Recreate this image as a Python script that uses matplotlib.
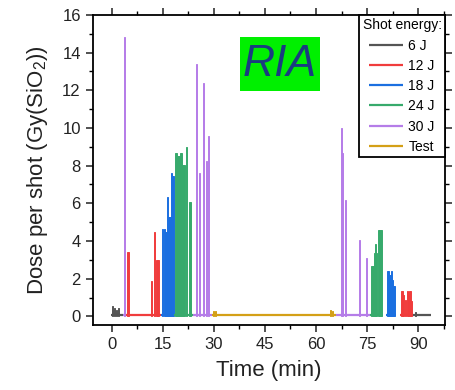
import numpy as np
import matplotlib
matplotlib.use('Agg')
from matplotlib import pyplot as plt
from matplotlib.patches import Rectangle
from matplotlib.ticker import MultipleLocator

plt.rcParams['font.family'] = ['Liberation Sans', 'DejaVu Sans']
plt.rcParams['mathtext.default'] = 'regular'

# shot energies, colours
labels = ['6 J', '12 J', '18 J', '24 J', '30 J', 'Test']
colors = ['#555555', '#f03c3c', '#1b6fe0', '#37aa6c', '#b57de8', '#d4a017']

# shot times (min) and doses (Gy(SiO2)) per energy
t_6J = [0.3, 0.85, 1.5, 2.05, 89.2]
d_6J = [0.57, 0.45, 0.35, 0.45, 0.25]
t_12J = [4.8, 11.7, 12.7, 13.05, 13.4, 13.75, 85.25, 85.75, 86.25, 86.75, 87.2, 87.6, 88.1]
d_12J = [3.4, 1.86, 4.5, 2.97, 2.97, 2.97, 1.33, 1.15, 0.89, 1.33, 1.15, 1.36, 0.8]
t_18J = [15.05, 15.4, 15.75, 16.1, 16.45, 16.85, 17.15, 17.5, 17.85, 18.2,
         81.05, 81.4, 81.75, 82.1, 82.45, 82.8, 83.15]
d_18J = [4.63, 4.63, 4.5, 4.5, 6.33, 5.27, 5.27, 7.6, 7.46, 7.46,
         2.39, 2.39, 2.2, 2.39, 1.95, 1.59, 1.59]
t_24J = [18.8, 19.15, 19.5, 19.85, 20.2, 20.55, 20.9, 21.25, 21.95, 23.0,
         76.45, 76.8, 77.15, 77.5, 77.85, 78.45, 78.8, 79.15]
d_24J = [8.66, 8.66, 8.52, 8.52, 8.69, 8.69, 8.04, 8.04, 9.01, 6.05,
         2.69, 2.69, 3.36, 3.85, 3.36, 4.6, 4.6, 4.6]
t_30J = [3.9, 24.9, 25.9, 26.85, 27.85, 28.35, 67.45, 67.85, 68.75, 72.75, 74.75]
d_30J = [14.8, 13.4, 7.6, 12.37, 8.22, 9.58, 9.99, 8.66, 6.19, 4.07, 3.1]
t_test = [29.9, 30.4, 64.3, 64.8]
d_test = [0.27, 0.27, 0.35, 0.3]

# time ranges (start, end) of each energy run
runs_6J = [(-0.3, 3.4), (88.5, 93.8)]
runs_12J = [(4.2, 14.5), (84.6, 88.5)]
runs_18J = [(14.5, 18.4), (80.7, 83.6)]
runs_24J = [(18.4, 24.0), (75.8, 79.6)]
runs_30J = [(3.4, 4.2), (24.0, 29.4), (66.0, 75.8)]
runs_test = [(29.4, 66.0)]

shots = [(t_6J, d_6J), (t_12J, d_12J), (t_18J, d_18J),
         (t_24J, d_24J), (t_30J, d_30J), (t_test, d_test)]
runs = [runs_6J, runs_12J, runs_18J, runs_24J, runs_30J, runs_test]

fig = plt.figure(figsize=(4.56, 3.9), dpi=100)
ax = fig.add_axes([0.203, 0.167, 0.773, 0.795])

for (t, d), r, c, lab in zip(shots, runs, colors, labels):
    ax.bar(t, d, width=0.33, color=c, edgecolor=c, linewidth=0.7)
    starts = [s for s, e in r]
    ends = [e for s, e in r]
    ax.hlines([0.05] * len(r), starts, ends, color=c, lw=1.6, label=lab)

ax.set_xlim(-5.6, 97.9)
ax.set_ylim(-0.45, 16)
ax.xaxis.set_major_locator(MultipleLocator(15))
ax.xaxis.set_minor_locator(MultipleLocator(7.5))
ax.yaxis.set_major_locator(MultipleLocator(2))
ax.yaxis.set_minor_locator(MultipleLocator(1))

for sp in ax.spines.values():
    sp.set_linewidth(1.3)
ax.tick_params(axis='both', which='major', labelsize=12, length=5, width=1.1,
               colors='#222222', direction='out')
ax.tick_params(axis='both', which='minor', length=3, width=1.0, direction='out')
ax.tick_params(axis='x', which='both', top=True)
ax.tick_params(axis='y', which='both', right=True)

ax.set_xlabel('Time (min)', fontsize=16, color='#222222', labelpad=6)
ax.set_ylabel('Dose per shot (Gy(SiO$_2$))', fontsize=16, color='#222222', labelpad=9)

# RIA tag
ax.add_patch(Rectangle((0.418, 0.753), 0.227, 0.175, transform=ax.transAxes,
                       facecolor='#00f000', edgecolor='none', zorder=3))
ax.text(0.532, 0.840, 'RIA', transform=ax.transAxes, fontsize=32, style='italic',
        color='#1a3c80', ha='center', va='center', zorder=4)

leg = ax.legend(loc='upper right', bbox_to_anchor=(1, 1), borderaxespad=0,
                title='Shot energy:', fontsize=10, title_fontsize=10,
                fancybox=False, framealpha=1, edgecolor='black',
                handlelength=2.4, handletextpad=0.4, labelspacing=0.45,
                borderpad=0.25)
leg.get_frame().set_linewidth(1.3)

fig.savefig('out.png', dpi=100)
